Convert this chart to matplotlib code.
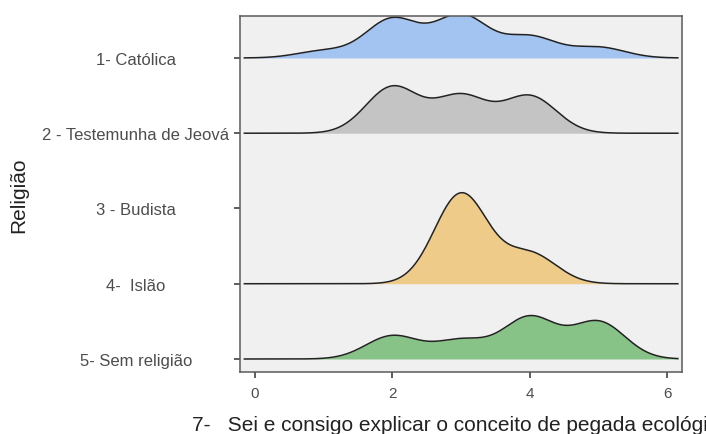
import numpy as np
import matplotlib
matplotlib.use("Agg")
import matplotlib.pyplot as plt

plt.rcParams['font.family'] = ['Liberation Sans', 'DejaVu Sans']

# Religion groups, top to bottom
categories = ["1- Católica", "2 - Testemunha de Jeová", "3 - Budista",
              "4-  Islão", "5- Sem religião"]
# Answer scale 1..5 and how many respondents chose each answer per group
answers = [1, 2, 3, 4, 5]
counts = {
    "1- Católica":             [2, 11, 12, 6, 3],
    "2 - Testemunha de Jeová": [0, 5, 4, 4, 0],
    "3 - Budista":             [0, 0, 0, 0, 0],
    "4-  Islão":               [0, 0, 3, 1, 0],
    "5- Sem religião":         [0, 5, 4, 9, 8],
}
fill_colors = {
    "1- Católica": "#A3C3F0",
    "2 - Testemunha de Jeová": "#C4C4C4",
    "4-  Islão": "#EFCB89",
    "5- Sem religião": "#87C287",
}
x_ticks = [0, 2, 4, 6]
x_label = "7-   Sei e consigo explicar o conceito de pegada ecológica"
y_label = "Religião"

bandwidth = 0.385
ridge_scale = 1.21

def kde(values, weights, grid, bw):
    values = np.asarray(values, float)
    weights = np.asarray(weights, float)
    z = (grid[:, None] - values[None, :]) / bw
    k = np.exp(-0.5 * z ** 2) / (np.sqrt(2 * np.pi) * bw)
    return (k * weights[None, :]).sum(axis=1) / weights.sum()

grid = np.linspace(min(answers) - 3 * bandwidth, max(answers) + 3 * bandwidth, 512)
dens = {}
for c in categories:
    if sum(counts[c]) > 0:
        dens[c] = kde(answers, counts[c], grid, bandwidth)
max_d = max(d.max() for d in dens.values())

fig = plt.figure(figsize=(7.06, 4.35), dpi=100)
ax = fig.add_axes([0.340, 0.1425, 0.626, 0.8185])
ax.set_facecolor("#F0F0F0")

n = len(categories)
ypos = {c: n - i for i, c in enumerate(categories)}
for i, c in enumerate(categories):
    if c not in dens:
        continue
    base = ypos[c]
    h = dens[c] / max_d * ridge_scale
    ax.fill_between(grid, base, base + h, color=fill_colors[c], lw=0, zorder=2 + i)
    ax.plot(grid, base + h, color="#222222", lw=1.1, zorder=2.5 + i)

ax.set_xlim(-0.218, 6.215)
ax.set_ylim(0.827, 5.558)
ax.set_xticks(x_ticks)
ax.set_xticklabels([str(t) for t in x_ticks])
ax.set_yticks([ypos[c] for c in categories])
ax.set_yticklabels(categories)
ax.tick_params(axis="both", length=4, width=1.1, color="#333333",
               labelcolor="#4D4D4D")
ax.tick_params(axis="x", labelsize=11, pad=6)
# category labels centred in the left margin
ax.tick_params(axis="y", labelsize=12, pad=71)
for lab in ax.get_yticklabels():
    lab.set_horizontalalignment("center")

for s in ax.spines.values():
    s.set_color("#5A5A5A")
    s.set_linewidth(1.1)

ax.set_xlabel(x_label, fontsize=15, color="#222222", labelpad=11)
ax.set_ylabel(y_label, fontsize=15, color="#222222")
ax.yaxis.set_label_coords(-0.479, 0.5)

fig.savefig("out.png", dpi=100)
